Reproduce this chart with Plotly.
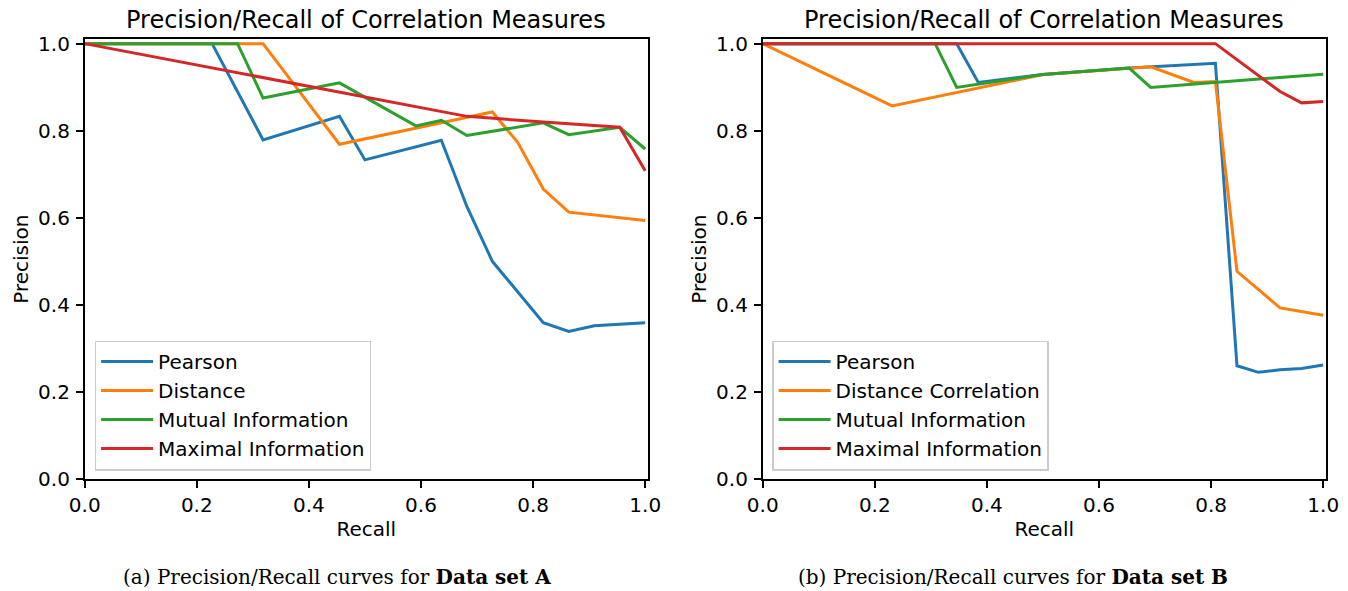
import plotly.graph_objects as go

# ---------------- Data set A (recall steps of 1/22) ----------------
a_labels = ["Pearson", "Distance", "Mutual Information", "Maximal Information"]
a_pearson_x = [0, 5/22, 7/22, 10/22, 11/22, 14/22, 15/22, 16/22, 18/22, 19/22, 20/22, 1.0]
a_pearson_y = [1.0, 1.0, 0.779, 0.833, 0.733, 0.778, 0.626, 0.500, 0.359, 0.339, 0.352, 0.359]
a_dist_x = [0, 7/22, 10/22, 16/22, 17/22, 18/22, 19/22, 1.0]
a_dist_y = [1.0, 1.0, 0.769, 0.843, 0.773, 0.666, 0.613, 0.594]
a_mutual_x = [0, 6/22, 7/22, 10/22, 13/22, 14/22, 15/22, 18/22, 19/22, 21/22, 1.0]
a_mutual_y = [1.0, 1.0, 0.875, 0.910, 0.811, 0.824, 0.789, 0.818, 0.791, 0.808, 0.758]
a_max_x = [0, 15/22, 18/22, 21/22, 1.0]
a_max_y = [1.0, 0.833, 0.820, 0.808, 0.708]

# ---------------- Data set B (recall steps of 1/26) ----------------
b_labels = ["Pearson", "Distance Correlation", "Mutual Information", "Maximal Information"]
b_pearson_x = [0, 9/26, 10/26, 13/26, 17/26, 18/26, 21/26, 22/26, 23/26, 24/26, 25/26, 1.0]
b_pearson_y = [1.0, 1.0, 0.911, 0.929, 0.944, 0.947, 0.955, 0.260, 0.245, 0.251, 0.254, 0.262]
b_dist_x = [0, 6/26, 13/26, 17/26, 18/26, 20/26, 21/26, 22/26, 24/26, 1.0]
b_dist_y = [1.0, 0.857, 0.929, 0.944, 0.947, 0.911, 0.913, 0.477, 0.393, 0.376]
b_mutual_x = [0, 8/26, 9/26, 13/26, 17/26, 18/26, 1.0]
b_mutual_y = [1.0, 1.0, 0.8995, 0.929, 0.944, 0.8995, 0.930]
b_max_x = [0, 21/26, 24/26, 25/26, 1.0]
b_max_y = [1.0, 1.0, 0.890, 0.864, 0.867]

tick_vals = [0.0, 0.2, 0.4, 0.6, 0.8, 1.0]
tick_text = ["0.0", "0.2", "0.4", "0.6", "0.8", "1.0"]
title_text = "Precision/Recall of Correlation Measures"
caption_a = "(a) Precision/Recall curves for <b>Data set A</b>"
caption_b = "(b) Precision/Recall curves for <b>Data set B</b>"

colors = ["#1f77b4", "#ff7f0e", "#2ca02c", "#d62728"]

# the page body margin is removed (post_script), so the figure sits at (0, 0)
OFF = 0
W, H = 1348 - OFF, 591 - OFF
fig = go.Figure()

a_series = [(a_pearson_x, a_pearson_y), (a_dist_x, a_dist_y), (a_mutual_x, a_mutual_y), (a_max_x, a_max_y)]
b_series = [(b_pearson_x, b_pearson_y), (b_dist_x, b_dist_y), (b_mutual_x, b_mutual_y), (b_max_x, b_max_y)]

for i, ((x, y), name) in enumerate(zip(a_series, a_labels)):
    fig.add_trace(go.Scatter(x=x, y=y, mode="lines", name=name,
                             line=dict(color=colors[i], width=3),
                             xaxis="x", yaxis="y", legend="legend"))
for i, ((x, y), name) in enumerate(zip(b_series, b_labels)):
    fig.add_trace(go.Scatter(x=x, y=y, mode="lines", name=name,
                             line=dict(color=colors[i], width=3),
                             xaxis="x2", yaxis="y2", legend="legend2"))

font_main = "DejaVu Sans"

def px_x(p):
    return (p - OFF) / W

def px_y(p):
    return (H - (p - OFF)) / H

ydom = [px_y(479), px_y(39.3)]
xdom1 = [px_x(84.7), px_x(648)]
xdom2 = [px_x(762.7), px_x(1326)]

axis_common = dict(
    showline=True, linecolor="black", linewidth=1.6, mirror=True,
    ticks="outside", ticklen=7, tickwidth=1.6, tickcolor="black",
    showgrid=False, zeroline=False, automargin=False,
    tickvals=tick_vals, ticktext=tick_text,
    tickfont=dict(family=font_main, size=20, color="black"),
)

xtitle = dict(text="Recall", font=dict(size=20), standoff=6)
ytitle = dict(text="Precision", font=dict(size=20), standoff=4)

legend_common = dict(
    xanchor="left", yanchor="top",
    bgcolor="rgba(255,255,255,0.8)", bordercolor="#cccccc", borderwidth=1.6,
    font=dict(family=font_main, size=20, color="black"),
    itemwidth=52, tracegroupgap=0,
)

fig.update_layout(
    width=W, height=H,
    margin=dict(l=0, r=0, t=0, b=0, autoexpand=False),
    paper_bgcolor="white", plot_bgcolor="white",
    font=dict(family=font_main, size=20, color="black"),
    xaxis=dict(domain=xdom1, range=[0, 1.005], anchor="y", title=xtitle,
               ticklabelstandoff=0, **axis_common),
    yaxis=dict(domain=ydom, range=[0, 1.01], anchor="x", title=ytitle,
               ticklabelstandoff=2, **axis_common),
    xaxis2=dict(domain=xdom2, range=[0, 1.005], anchor="y2", title=xtitle,
                ticklabelstandoff=0, **axis_common),
    yaxis2=dict(domain=ydom, range=[0, 1.01], anchor="x2", title=ytitle,
                ticklabelstandoff=2, **axis_common),
    legend=dict(x=px_x(94.5), y=px_y(340.5), **legend_common),
    legend2=dict(x=px_x(772), y=px_y(340.5), **legend_common),
    showlegend=True,
)

annotations = [
    dict(text=title_text, x=(xdom1[0] + xdom1[1]) / 2, y=px_y(20), xref="paper", yref="paper",
         xanchor="center", yanchor="middle", showarrow=False,
         font=dict(family=font_main, size=24, color="black")),
    dict(text=title_text, x=(xdom2[0] + xdom2[1]) / 2, y=px_y(20), xref="paper", yref="paper",
         xanchor="center", yanchor="middle", showarrow=False,
         font=dict(family=font_main, size=24, color="black")),
    dict(text=caption_a, x=px_x(337), y=px_y(577), xref="paper", yref="paper",
         xanchor="center", yanchor="middle", showarrow=False,
         font=dict(family="DejaVu Serif", size=20, color="black")),
    dict(text=caption_b, x=px_x(1013), y=px_y(577), xref="paper", yref="paper",
         xanchor="center", yanchor="middle", showarrow=False,
         font=dict(family="DejaVu Serif", size=20, color="black")),
]
fig.update_layout(annotations=annotations)

fig.write_html("out.html", config={"displayModeBar": False},
               post_script="document.body.style.margin = '0px';")
